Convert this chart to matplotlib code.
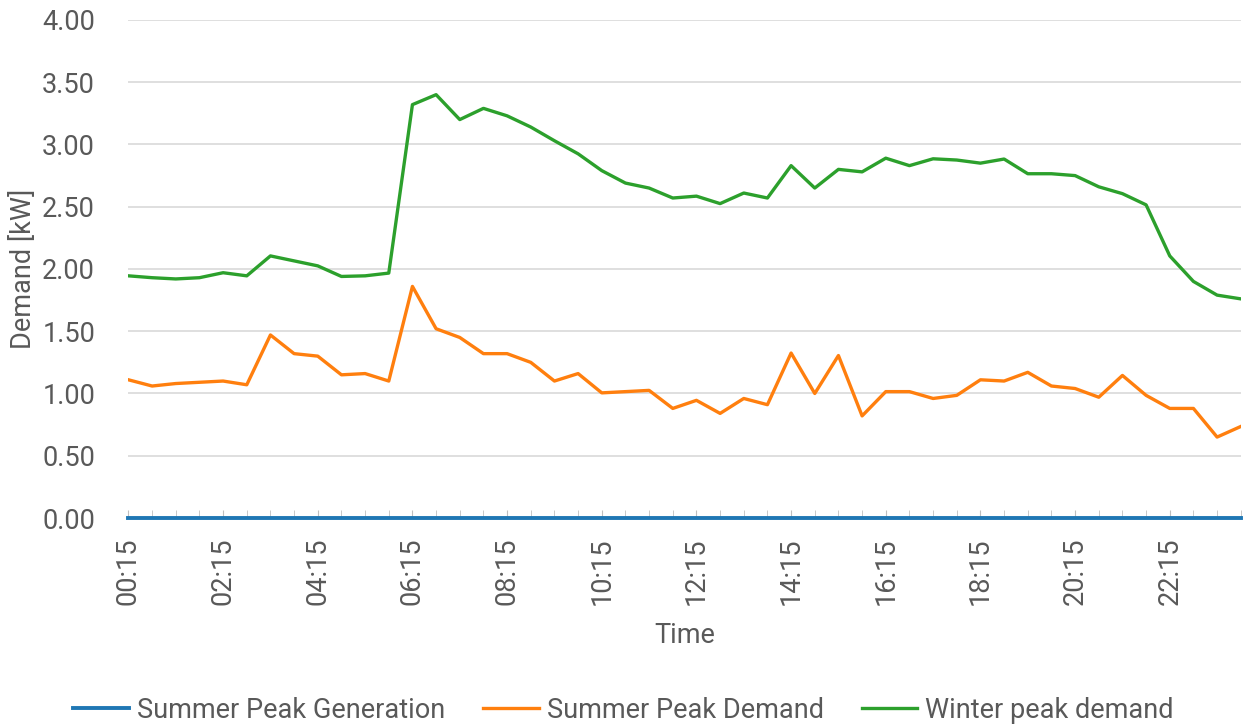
import matplotlib
matplotlib.use("Agg")
import matplotlib.pyplot as plt

# half-hourly slots 00:15 .. 23:45
times = [f"{h:02d}:{m:02d}" for h in range(24) for m in (15, 45)]

summer_generation = [0.0] * 48

summer_demand = [
    1.11, 1.06, 1.08, 1.09, 1.10, 1.07, 1.47, 1.32, 1.30, 1.15, 1.16, 1.10,
    1.86, 1.52, 1.45, 1.32, 1.32, 1.25, 1.10, 1.16, 1.005, 1.015, 1.025, 0.88,
    0.945, 0.84, 0.96, 0.91, 1.325, 1.00, 1.305, 0.82, 1.015, 1.015, 0.96, 0.985,
    1.11, 1.10, 1.17, 1.06, 1.04, 0.97, 1.145, 0.985, 0.88, 0.88, 0.65, 0.735,
]

winter_demand = [
    1.945, 1.93, 1.92, 1.93, 1.97, 1.945, 2.105, 2.065, 2.025, 1.94, 1.945, 1.967,
    3.32, 3.40, 3.20, 3.29, 3.23, 3.14, 3.03, 2.925, 2.79, 2.69, 2.65, 2.57,
    2.585, 2.525, 2.61, 2.57, 2.83, 2.65, 2.80, 2.78, 2.89, 2.83, 2.885, 2.875,
    2.85, 2.883, 2.765, 2.765, 2.75, 2.66, 2.605, 2.515, 2.105, 1.90, 1.79, 1.76,
]

grey = "#595959"
fs = 19.5
plt.rcParams["font.family"] = ["Roboto", "DejaVu Sans"]

fig = plt.figure(figsize=(12.47, 7.26), dpi=100)
ax = fig.add_axes([0.103, 0.2865, 0.892, 0.686])

x = list(range(len(times)))
ax.plot(x, winter_demand, color="#2ca02c", lw=2.4, label="Winter peak demand", zorder=3)
ax.plot(x, summer_demand, color="#ff7f0e", lw=2.4, label="Summer Peak Demand", zorder=3)
ax.plot(x, summer_generation, color="#1f77b4", lw=2.8, label="Summer Peak Generation",
        zorder=4, clip_on=False)

ax.set_xlim(0, len(times) - 1)
ax.set_ylim(0, 4)
ax.set_yticks([i * 0.5 for i in range(9)])
ax.set_yticklabels([f"{i * 0.5:.2f}" for i in range(9)])
ax.yaxis.grid(True, color="#d9d9d9", lw=1.2)
ax.set_axisbelow(True)

ax.set_xticks(x[::4])
ax.set_xticklabels(times[::4], rotation=90)
ax.set_xticks(x, minor=True)
ax.tick_params(axis="x", which="both", direction="in", length=6, color="#bfbfbf",
               labelsize=fs, labelcolor=grey, pad=14)
ax.tick_params(axis="y", length=0, labelsize=fs, labelcolor=grey, pad=24)

for side in ("top", "right", "left", "bottom"):
    ax.spines[side].set_visible(False)

ax.set_ylabel("Demand [kW]", fontsize=fs, color=grey, labelpad=4)
ax.set_xlabel("Time", fontsize=fs, color=grey, labelpad=12)

handles, labels = ax.get_legend_handles_labels()
order = [2, 1, 0]
fig.legend([handles[i] for i in order], [labels[i] for i in order],
           loc="center", bbox_to_anchor=(0.5, 0.022), ncol=3, frameon=False,
           fontsize=fs, labelcolor=grey, handlelength=2.05, handletextpad=0.3,
           columnspacing=1.4)

fig.savefig("out.png", dpi=100)
